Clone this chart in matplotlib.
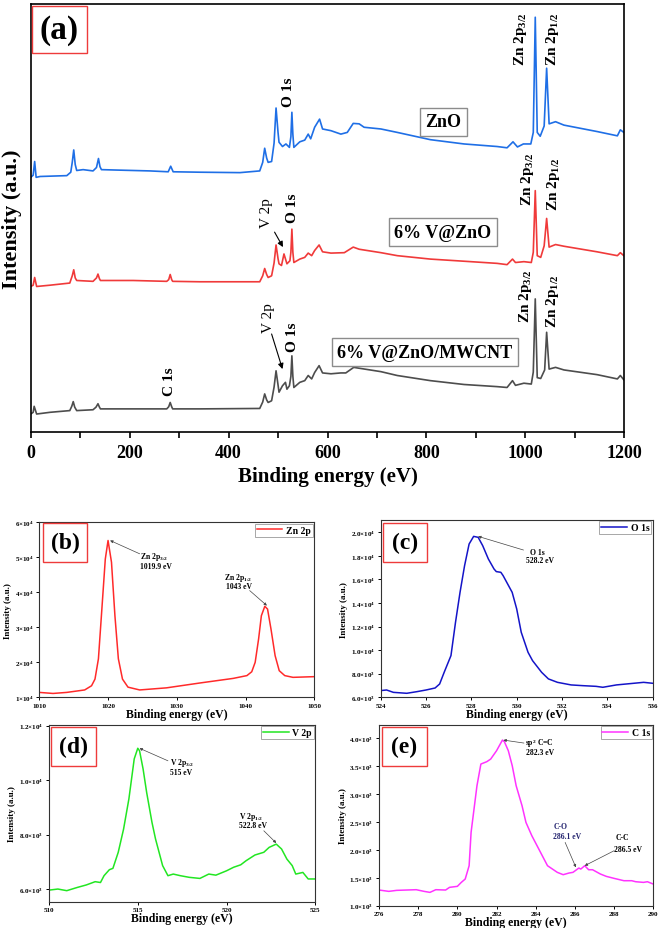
import matplotlib
matplotlib.use("Agg")
import matplotlib.pyplot as plt
from matplotlib.patches import Rectangle
from matplotlib.ticker import MultipleLocator, FuncFormatter

plt.rcParams.update({
    "font.family": ["Liberation Serif", "DejaVu Serif"],
    "font.weight": "bold",
    "mathtext.fontset": "custom",
    "mathtext.rm": "Liberation Serif:bold",
    "mathtext.it": "Liberation Serif:italic:bold",
    "mathtext.bf": "Liberation Serif:bold",
    "mathtext.default": "rm",
})

# ---------------- (a) survey spectra, a.u. (stacked) ----------------
ZNO_EV = [0, 5, 8, 11, 19, 73, 81, 84, 87, 90, 93, 106, 126, 133, 137, 140, 143,
          174, 241, 278, 283, 288, 342, 423, 463, 469, 473, 477, 480, 487, 492,
          496, 500, 502, 509, 516, 523, 526, 528, 530, 532, 544, 554, 561, 566,
          574, 584, 590, 607, 627, 640, 652, 664, 674, 708, 741, 808, 876, 943,
          963, 975, 984, 996, 1011, 1016, 1020, 1024, 1030, 1038, 1043, 1048,
          1061, 1078, 1145, 1186, 1192, 1199]
ZNO_INT = [59.5, 60.0, 63.2, 59.5, 59.7, 59.9, 60.7, 63.0, 65.9, 62.5, 61.1, 61.3,
           61.0, 61.8, 63.9, 62.0, 61.3, 61.2, 61.0, 60.8, 62.1, 60.8, 60.7, 60.6,
           61.0, 63.0, 66.3, 64.0, 63.0, 63.2, 67.5, 75.7, 70.0, 67.7, 66.7, 67.3,
           66.5, 69.0, 74.7, 69.5, 66.5, 67.8, 68.2, 69.6, 68.5, 71.2, 73.1, 70.8,
           70.4, 69.6, 70.0, 72.1, 72.0, 71.2, 70.8, 70.0, 68.3, 67.3, 66.7, 66.4,
           67.8, 66.6, 67.3, 67.3, 70.0, 96.9, 70.0, 69.1, 71.5, 85.0, 72.0, 72.5,
           71.7, 70.2, 69.2, 70.6, 70.0]

VZNO_EV = [0, 5, 8, 12, 39, 79, 84, 87, 90, 93, 126, 133, 136, 139, 141, 207, 275,
           279, 282, 285, 287, 342, 463, 469, 473, 477, 480, 487, 492, 496, 500,
           502, 507, 512, 518, 524, 526, 528, 530, 532, 544, 554, 561, 568, 574,
           583, 590, 607, 634, 652, 664, 708, 741, 808, 876, 943, 963, 974, 980,
           997, 1012, 1016, 1020, 1024, 1031, 1038, 1043, 1048, 1061, 1078, 1145,
           1186, 1192, 1199]
VZNO_INT = [34.0, 34.3, 36.1, 34.0, 34.3, 34.8, 36.5, 37.9, 36.0, 35.4, 35.2, 36.0,
            36.9, 35.8, 35.4, 35.4, 35.2, 35.6, 36.8, 35.6, 35.2, 35.1, 35.1, 36.5,
            38.2, 36.8, 36.1, 36.5, 39.5, 43.7, 40.5, 39.3, 38.9, 41.6, 39.3, 40.0,
            42.0, 47.4, 42.0, 39.6, 40.4, 40.8, 41.8, 41.2, 42.4, 43.7, 42.1, 41.8,
            41.9, 43.2, 42.7, 41.9, 41.2, 40.4, 39.9, 39.4, 39.1, 40.4, 39.6, 39.8,
            39.6, 42.0, 56.4, 41.2, 40.8, 43.5, 49.9, 43.2, 43.8, 43.4, 42.1, 41.2,
            41.9, 41.2]

CNT_EV = [0, 5, 7, 12, 39, 79, 83, 86, 89, 93, 126, 132, 136, 139, 141, 207, 275,
          279, 282, 285, 287, 342, 463, 469, 473, 477, 480, 487, 492, 496, 500,
          502, 509, 515, 518, 523, 526, 528, 530, 532, 544, 554, 561, 568, 574,
          583, 590, 607, 627, 637, 653, 664, 708, 741, 808, 876, 943, 963, 974,
          980, 997, 1012, 1016, 1020, 1024, 1031, 1039, 1043, 1048, 1061, 1078,
          1145, 1186, 1192, 1199]
CNT_INT = [4.2, 4.6, 6.0, 4.2, 4.6, 5.0, 6.0, 7.1, 5.8, 5.0, 5.2, 5.8, 6.6, 5.8,
           5.4, 5.4, 5.4, 5.9, 6.9, 5.9, 5.4, 5.4, 5.5, 7.0, 8.9, 7.5, 6.9, 7.3,
           10.5, 14.3, 11.0, 9.3, 10.8, 11.6, 10.0, 10.8, 13.0, 17.8, 13.0, 10.4,
           11.6, 12.0, 13.2, 12.4, 13.9, 15.5, 13.8, 13.6, 13.8, 13.8, 15.1, 14.9,
           14.1, 13.2, 12.0, 11.1, 10.6, 10.4, 12.0, 10.9, 11.4, 11.2, 14.0, 31.1,
           12.7, 12.5, 14.5, 23.3, 14.7, 15.1, 14.5, 13.4, 12.4, 13.2, 12.2]

# ---------------- (b)-(e) high resolution spectra ----------------
ZN2P_EV = [1010, 1012, 1014, 1016.6, 1017.6, 1018.1, 1018.6, 1019.1, 1019.6, 1020.0,
           1020.5, 1021.0, 1021.5, 1022.1, 1022.9, 1024.6, 1028.5, 1033.4, 1038.2,
           1040.2, 1040.9, 1041.4, 1041.9, 1042.3, 1042.8, 1043.2, 1043.7, 1044.3,
           1044.9, 1045.7, 1046.9, 1050]
ZN2P_INT = [1.14e4, 1.11e4, 1.14e4, 1.21e4, 1.33e4, 1.52e4, 2.10e4, 3.52e4, 4.95e4,
            5.48e4, 4.86e4, 3.33e4, 2.10e4, 1.52e4, 1.29e4, 1.21e4, 1.27e4, 1.41e4,
            1.54e4, 1.62e4, 1.73e4, 2.00e4, 2.67e4, 3.33e4, 3.60e4, 3.52e4, 2.95e4,
            2.19e4, 1.76e4, 1.62e4, 1.57e4, 1.59e4]

O1S_EV = [524.0, 524.26, 524.56, 525.15, 525.6, 526.0, 526.4, 526.6, 526.8, 527.1,
          527.3, 527.5, 527.7, 527.9, 528.1, 528.3, 528.5, 528.75, 529.0, 529.1,
          529.3, 529.4, 529.8, 530.0, 530.2, 530.5, 530.7, 531.1, 531.4, 531.8,
          532.4, 532.9, 533.5, 533.8, 534.4, 535.0, 535.6, 536.0]
O1S_INT = [6570, 6620, 6420, 6340, 6480, 6620, 6790, 7130, 8120, 9540, 12360, 14910,
           17170, 19010, 19660, 19580, 18870, 17740, 16890, 16670, 16610, 16330,
           14910, 13500, 11520, 9820, 9110, 8120, 7560, 7270, 7050, 6990, 6930,
           6850, 7050, 7160, 7270, 7190]

V2P_EV = [510.0, 510.5, 511.0, 511.6, 512.1, 512.6, 512.9, 513.1, 513.4, 513.6,
          513.9, 514.2, 514.5, 514.7, 514.8, 515.0, 515.1, 515.3, 515.5, 515.8,
          516.0, 516.2, 516.4, 516.7, 517.0, 517.4, 517.9, 518.5, 519.0, 519.4,
          520.0, 520.4, 520.8, 521.1, 521.6, 522.1, 522.4, 522.8, 523.1, 523.4,
          523.7, 523.9, 524.3, 524.6, 525.0]
V2P_INT = [5960, 6000, 5940, 6060, 6150, 6270, 6240, 6490, 6710, 6760, 7350, 8200,
           9310, 10290, 10780, 11170, 11080, 10410, 9550, 8450, 7840, 7350, 6860,
           6490, 6550, 6490, 6430, 6390, 6550, 6510, 6670, 6800, 6890, 7040, 7250,
           7350, 7530, 7650, 7470, 7100, 6860, 6550, 6610, 6370, 6370]

C1S_EV = [276.0, 276.5, 276.9, 277.4, 277.9, 278.3, 278.6, 278.9, 279.4, 279.6,
          280.0, 280.2, 280.4, 280.6, 280.7, 281.0, 281.2, 281.5, 281.7, 282.0,
          282.3, 282.4, 282.6, 282.8, 283.0, 283.3, 283.5, 283.8, 284.2, 284.6,
          285.1, 285.4, 285.7, 285.9, 286.2, 286.3, 286.5, 286.7, 286.9, 287.3,
          287.6, 288.0, 288.5, 288.9, 289.1, 289.5, 289.7, 290.0]
C1S_INT = [1281, 1257, 1275, 1281, 1287, 1257, 1239, 1287, 1281, 1329, 1347, 1418,
           1478, 1717, 2315, 3151, 3540, 3582, 3629, 3779, 3970, 3940, 3779, 3510,
           3151, 2793, 2494, 2255, 1986, 1717, 1598, 1556, 1586, 1598, 1675, 1657,
           1717, 1645, 1645, 1568, 1526, 1490, 1448, 1448, 1430, 1418, 1430, 1388]

W, H = 662, 929
fig = plt.figure(figsize=(W / 100, H / 100), dpi=100)


def px_axes(x0, y0, x1, y1):
    return fig.add_axes([x0 / W, 1 - y1 / H, (x1 - x0) / W, (y1 - y0) / H])


def tag(text, x0, y0, x1, y1, size):
    fig.patches.append(Rectangle((x0 / W, 1 - y1 / H), (x1 - x0) / W, (y1 - y0) / H,
                                 transform=fig.transFigure, fc="white",
                                 ec="#ee3b3b", lw=1.0, zorder=5))
    fig.text((x0 + x1) / 2 / W, 1 - (y0 + y1) / 2 / H, text, ha="center",
             va="center", fontsize=size, fontweight="bold", zorder=6)


def sci(decimals):
    def f(v, pos):
        if v <= 0:
            return ""
        e = 0
        m = v
        while m >= 10 - 1e-9:
            m /= 10
            e += 1
        return r"$%.*f{\times}10^{%d}$" % (decimals, m, e)
    return FuncFormatter(f)


# =========================================================================
# (a) survey
# =========================================================================
ax = px_axes(30.7, 5, 624.3, 433)
ax.plot(ZNO_EV, ZNO_INT, color="#1f6fe6", lw=1.2)
ax.plot(VZNO_EV, VZNO_INT, color="#f03a3a", lw=1.2)
ax.plot(CNT_EV, CNT_INT, color="#4d4d4d", lw=1.2)
ax.set_xlim(0, 1200)
ax.set_ylim(0, 100)
ax.set_yticks([])
ax.xaxis.set_major_locator(MultipleLocator(200))
ax.xaxis.set_minor_locator(MultipleLocator(100))
ax.tick_params(axis="x", which="both", direction="out", length=4, width=1.2,
               labelsize=13, pad=5)
for s in ax.spines.values():
    s.set_linewidth(1.2)
ax.set_xlabel("Binding energy (eV)", fontsize=15, fontweight="bold", labelpad=3)
ax.set_ylabel("Intensity (a.u.)", fontsize=16, fontweight="bold", labelpad=6)

rot = dict(rotation=90, ha="center", va="center", fontsize=11, fontweight="bold")
ax.text(522, 79.7, "O 1s", **rot)
ax.text(991, 92, "Zn 2p$_{3/2}$", **rot)
ax.text(1054, 92, "Zn 2p$_{1/2}$", **rot)
ax.text(477, 51.4, "V 2p", rotation=90, ha="center", va="center", fontsize=11,
        fontweight="normal")
ax.text(530, 52.6, "O 1s", **rot)
ax.text(1004, 59.3, "Zn 2p$_{3/2}$", **rot)
ax.text(1057, 58.2, "Zn 2p$_{1/2}$", **rot)
ax.text(480, 26.9, "V 2p", rotation=90, ha="center", va="center", fontsize=11,
        fontweight="normal")
ax.text(530, 22.4, "O 1s", **rot)
ax.text(281, 11.9, "C 1s", **rot)
ax.text(1001, 32.0, "Zn 2p$_{3/2}$", **rot)
ax.text(1055, 30.8, "Zn 2p$_{1/2}$", **rot)

arr = dict(arrowstyle="-|>", color="black", lw=0.8, mutation_scale=8,
           shrinkA=0, shrinkB=0)
ax.annotate("", xy=(510, 43.2), xytext=(493, 46.7), arrowprops=arr)
ax.annotate("", xy=(509, 14.7), xytext=(487, 22.9), arrowprops=arr)

box = dict(boxstyle="square,pad=0.3", fc="white", ec="#8c8c8c", lw=1.0)
ax.text(834, 72.5, "ZnO", ha="center", va="center", fontsize=13,
        fontweight="bold", bbox=box)
ax.text(833, 46.7, "6% V@ZnO", ha="center", va="center", fontsize=13,
        fontweight="bold", bbox=box)
ax.text(797, 18.6, "6% V@ZnO/MWCNT", ha="center", va="center", fontsize=13,
        fontweight="bold", bbox=box)

tag("(a)", 32, 7, 87, 54, 24)


# =========================================================================
# high resolution panels
# =========================================================================
def hr_panel(rect, ev, inten, color, name, xlim, xstep, ylim, ystep, dec):
    a = px_axes(*rect)
    a.plot(ev, inten, color=color, lw=1.1, label=name)
    a.set_xlim(*xlim)
    a.set_ylim(*ylim)
    a.xaxis.set_major_locator(MultipleLocator(xstep))
    a.yaxis.set_major_locator(MultipleLocator(ystep))
    a.yaxis.set_major_formatter(sci(dec))
    a.tick_params(which="both", direction="out", length=2, width=0.7,
                  labelsize=5, pad=2)
    for s in a.spines.values():
        s.set_linewidth(0.8)
        s.set_color("#333333")
    a.set_xlabel("Binding energy (eV)", fontsize=8.5, fontweight="bold",
                 labelpad=0)
    a.set_ylabel("Intensity (a.u.)", fontsize=6.5, fontweight="bold", labelpad=2)
    leg = a.legend(loc="upper right", prop=dict(weight="bold", size=7),
                   handlelength=2.6, borderpad=0.2, borderaxespad=0.15,
                   handletextpad=0.4, fancybox=False, edgecolor="#999999",
                   framealpha=1)
    leg.get_frame().set_linewidth(0.6)
    return a


small_arr = dict(arrowstyle="-|>", color="#444444", lw=0.5, mutation_scale=4,
                 shrinkA=0, shrinkB=0)
fs = 5.5

# (b) Zn 2p
axb = hr_panel((39.3, 523.3, 314.3, 698.3), ZN2P_EV, ZN2P_INT, "#ff2a2a", "Zn 2p",
               (1010, 1050), 10, (1e4, 6e4), 1e4, 0)
axb.text(1024.6, 5.05e4, "Zn 2p$_{3/2}$", fontsize=fs, ha="left", va="center")
axb.text(1024.6, 4.74e4, "1019.9 eV", fontsize=fs, ha="left", va="center")
axb.annotate("", xy=(1020.3, 5.48e4), xytext=(1024.6, 5.10e4), arrowprops=small_arr)
axb.text(1036.8, 4.45e4, "Zn 2p$_{1/2}$", fontsize=fs, ha="left", va="center")
axb.text(1037.2, 4.17e4, "1043 eV", fontsize=fs, ha="left", va="center")
axb.annotate("", xy=(1043.1, 3.62e4), xytext=(1040.6, 4.05e4), arrowprops=small_arr)
tag("(b)", 42.7, 524, 87.3, 563, 17)

# (c) O 1s
axc = hr_panel((380.7, 521, 652.7, 698.3), O1S_EV, O1S_INT, "#1414c8", "O 1s",
               (524, 536), 2, (6000, 21050), 2000, 1)
axc.text(530.6, 1.836e4, "O 1s", fontsize=fs, ha="left", va="center")
axc.text(530.4, 1.768e4, "528.2 eV", fontsize=fs, ha="left", va="center")
axc.annotate("", xy=(528.3, 1.966e4), xytext=(530.3, 1.85e4), arrowprops=small_arr)
tag("(c)", 382.7, 524, 426.7, 563, 17)

# (d) V 2p
axd = hr_panel((49, 726, 315.3, 902.7), V2P_EV, V2P_INT, "#22e622", "V 2p",
               (510, 525), 5, (5535, 12025), 2000, 1)
axd.text(516.8, 1.065e4, "V 2p$_{3/2}$", fontsize=fs, ha="left", va="center")
axd.text(516.8, 1.031e4, "515 eV", fontsize=fs, ha="left", va="center")
axd.annotate("", xy=(515.1, 1.117e4), xytext=(516.7, 1.071e4), arrowprops=small_arr)
axd.text(520.7, 8.67e3, "V 2p$_{1/2}$", fontsize=fs, ha="left", va="center")
axd.text(520.7, 8.35e3, "522.8 eV", fontsize=fs, ha="left", va="center")
axd.annotate("", xy=(522.8, 7.69e3), xytext=(522.1, 8.14e3), arrowprops=small_arr)
tag("(d)", 50.7, 728, 96, 767, 17)

# (e) C 1s
axe = hr_panel((379, 726, 653.3, 906.7), C1S_EV, C1S_INT, "#ff33ff", "C 1s",
               (276, 290), 2, (1000, 4240), 500, 1)
axe.text(283.45, 3928, "sp$^{2}$ C=C", fontsize=fs, ha="left", va="center")
axe.text(283.5, 3749, "282.3 eV", fontsize=fs, ha="left", va="center")
axe.annotate("", xy=(282.35, 3970), xytext=(283.4, 3916), arrowprops=small_arr)
axe.text(284.9, 2422, "C-O", fontsize=fs, ha="left", va="center", color="#22226e")
axe.text(284.9, 2243, "286.1 eV", fontsize=fs, ha="left", va="center",
         color="#22226e")
axe.annotate("", xy=(286.05, 1687), xytext=(285.5, 2135), arrowprops=small_arr)
axe.text(288.1, 2225, "C-C", fontsize=fs, ha="left", va="center")
axe.text(288.0, 2016, "286.5 eV", fontsize=fs, ha="left", va="center")
axe.annotate("", xy=(286.5, 1717), xytext=(288.0, 1986), arrowprops=small_arr)
tag("(e)", 381.7, 728, 426.7, 767, 17)

fig.savefig("out.png", dpi=100, facecolor="white")
